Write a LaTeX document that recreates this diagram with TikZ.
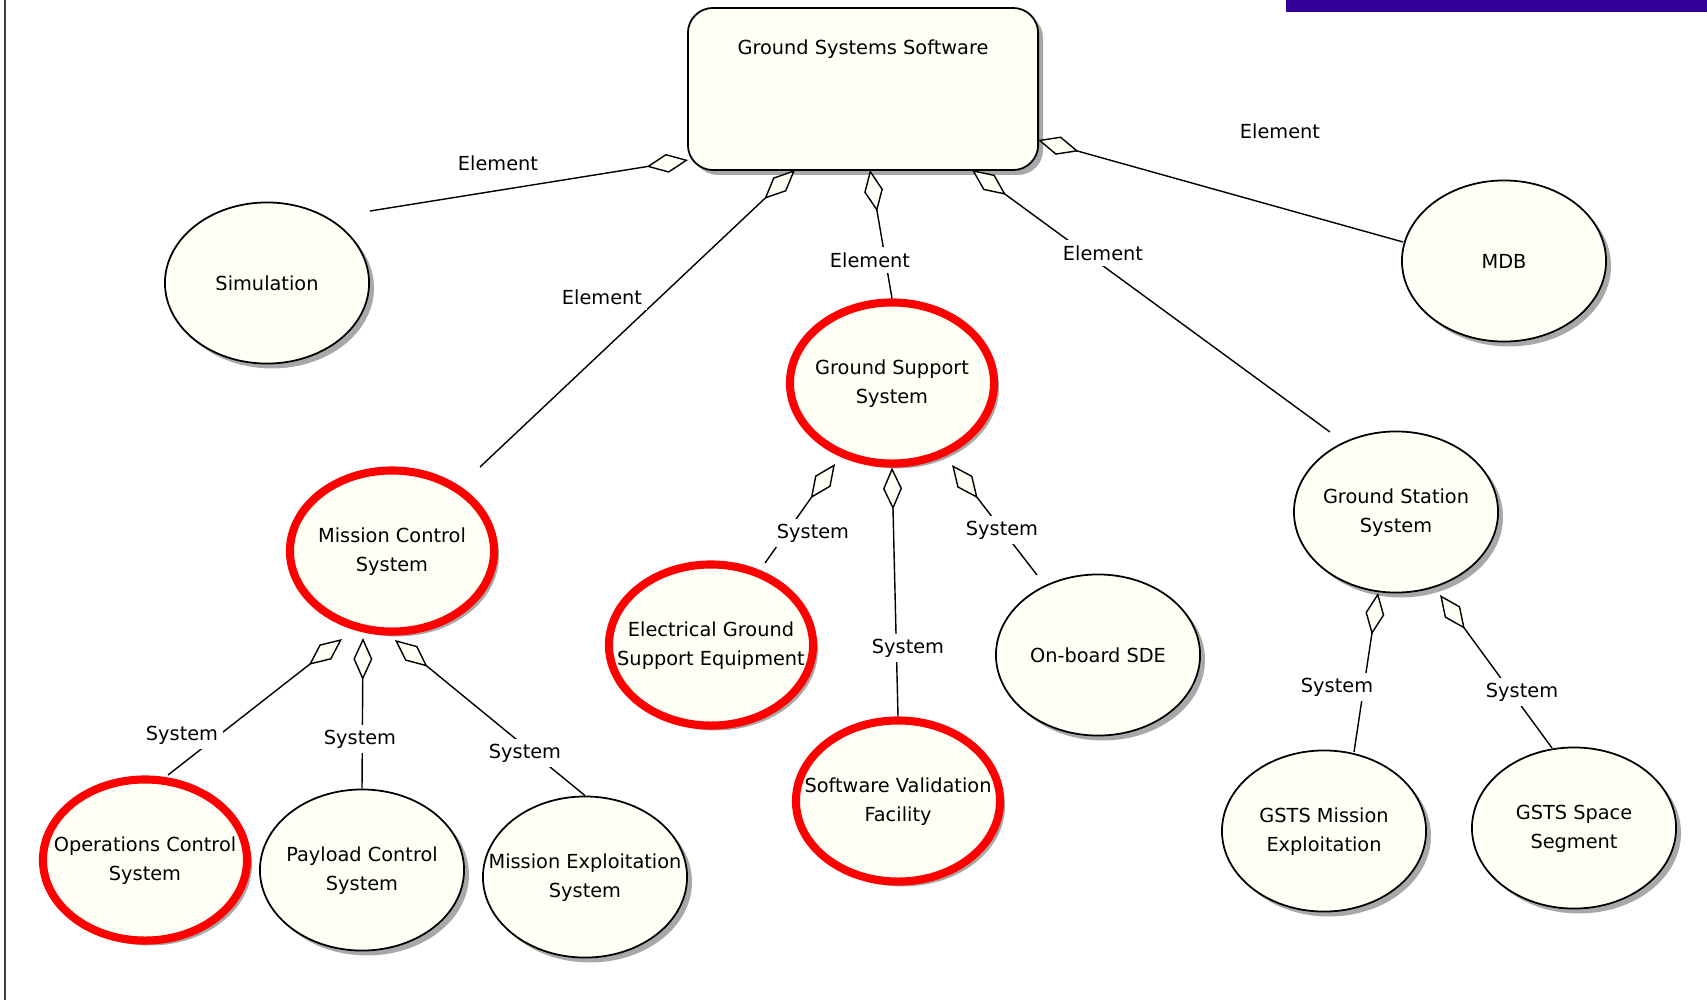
\documentclass[tikz,border=0pt]{standalone}
\usepackage{fontspec}
\newfontfamily\ucfam{DejaVu Sans}
\usetikzlibrary{shapes.geometric, shadows, calc, arrows.meta}
\definecolor{ucFill}{HTML}{FFFFF6}
\definecolor{ucRed}{HTML}{FF0000}
\definecolor{ucBar}{HTML}{330099}
\definecolor{ucShade}{HTML}{A8A8A8}
\newcommand{\ucfont}{\ucfam\fontsize{5.5}{8.5}\selectfont}
\newcommand{\uclines}[1]{\makebox[0pt]{\begin{tabular}{@{}c@{}}#1\end{tabular}}}
\tikzset{
    ucBase/.style={
        ellipse,
        draw,
        line width=0.5pt,
        fill=ucFill,
        minimum width=2.04cm,
        minimum height=1.61cm,
        inner sep=0pt,
        font=\ucfont,
        drop shadow={shadow xshift=1.4pt, shadow yshift=-1.4pt, fill=ucShade, opacity=1}
    },
    % circled use cases
    ucMark/.style={ucBase, draw=ucRed, line width=2.3pt},
    pkgBox/.style={
        rectangle,
        draw,
        line width=0.5pt,
        rounded corners=0.25cm,
        fill=ucFill,
        minimum width=3.5cm,
        minimum height=1.62cm,
        drop shadow={shadow xshift=1.4pt, shadow yshift=-1.4pt, fill=ucShade, opacity=1}
    },
    % aggregation lines
    aggLine/.style={{Diamond[fill=ucFill, length=4.2mm, width=1.9mm]}-, line width=0.4pt},
    roleText/.style={fill=white, inner sep=1.5pt, font=\ucfont}
}

\begin{document}
\begin{tikzpicture}[x=0.01cm, y=-0.01cm]
    \useasboundingbox (0,0) rectangle (1707,1000);
    \fill[ucBar] (1286,0) rectangle (1707,12);
    \draw[black!75, line width=0.6pt] (5,0) -- (5,1000);

    \node[pkgBox, label={[font=\ucfont, anchor=north, yshift=-0.2cm]north:Ground Systems Software}] (gss) at (863,89) {};

    \node[ucBase] (sim) at (267,283) {Simulation};
    \node[ucBase] (mdb) at (1504,261) {MDB};
    \node[ucMark] (gsup) at (892,383) {\uclines{Ground Support\\System}};
    \node[ucMark] (mcs) at (392,551) {\uclines{Mission Control\\System}};
    \node[ucBase] (gst) at (1396,512) {\uclines{Ground Station\\System}};
    \node[ucMark] (egse) at (711,645) {\uclines{Electrical Ground\\Support Equipment}};
    \node[ucMark] (svf) at (898,801) {\uclines{Software Validation\\Facility}};
    \node[ucBase] (sde) at (1098,655) {On-board SDE};
    \node[ucMark] (ocs) at (145,860) {\uclines{Operations Control\\System}};
    \node[ucBase] (pcs) at (362,870) {\uclines{Payload Control\\System}};
    \node[ucBase] (mes) at (585,877) {\uclines{Mission Exploitation\\System}};
    \node[ucBase] (gme) at (1324,831) {\uclines{GSTS Mission\\Exploitation}};
    \node[ucBase] (gsp) at (1574,828) {\uclines{GSTS Space\\Segment}};

    \draw[aggLine] ($(gss)+(-175,71)$) -- ($(sim)+(103,-72)$);
    \draw[aggLine] ($(gss)+(-68,81)$) -- ($(mcs)+(88,-84)$);
    \draw[aggLine] ($(gss)+(7,81)$) -- (gsup.north);
    \draw[aggLine] ($(gss)+(109,81)$) -- ($(gst)+(-66,-80)$);
    \draw[aggLine] ($(gss)+(175,51)$) -- ($(mdb)+(-101,-19)$);

    \draw[aggLine] ($(gsup)+(-57,81)$) -- ($(egse)+(54,-82)$);
    \draw[aggLine] (gsup.south) -- (svf.north);
    \draw[aggLine] ($(gsup)+(60,82)$) -- ($(sde)+(-61,-80)$);

    \draw[aggLine] ($(mcs)+(-50,88)$) -- ($(ocs)+(23,-85)$);
    \draw[aggLine] ($(mcs)+(-29,87)$) -- (pcs.north);
    \draw[aggLine] ($(mcs)+(3,89)$) -- (mes.north);

    \draw[aggLine] ($(gst)+(-18,81)$) -- ($(gme)+(30,-79)$);
    \draw[aggLine] ($(gst)+(44,83)$) -- ($(gsp)+(-22,-80)$);

    \node[roleText] (rSim) at (498,163) {Element};
    \node[roleText] (rMcs) at (602,297) {Element};
    \node[roleText] (rGsup) at (870,260) {Element};
    \node[roleText] (rGst) at (1103,253) {Element};
    \node[roleText] (rMdb) at (1280,131) {Element};
    \node[roleText] (rEgse) at (813,533) {System};
    \node[roleText] (rSvf) at (908,648) {System};
    \node[roleText] (rSde) at (1002,530) {System};
    \node[roleText] (rOcs) at (182,735) {System};
    \node[roleText] (rPcs) at (360,739) {System};
    \node[roleText] (rMes) at (525,753) {System};
    \node[roleText] (rGme) at (1337,687) {System};
    \node[roleText] (rGsp) at (1522,692) {System};
\end{tikzpicture}
\end{document}
